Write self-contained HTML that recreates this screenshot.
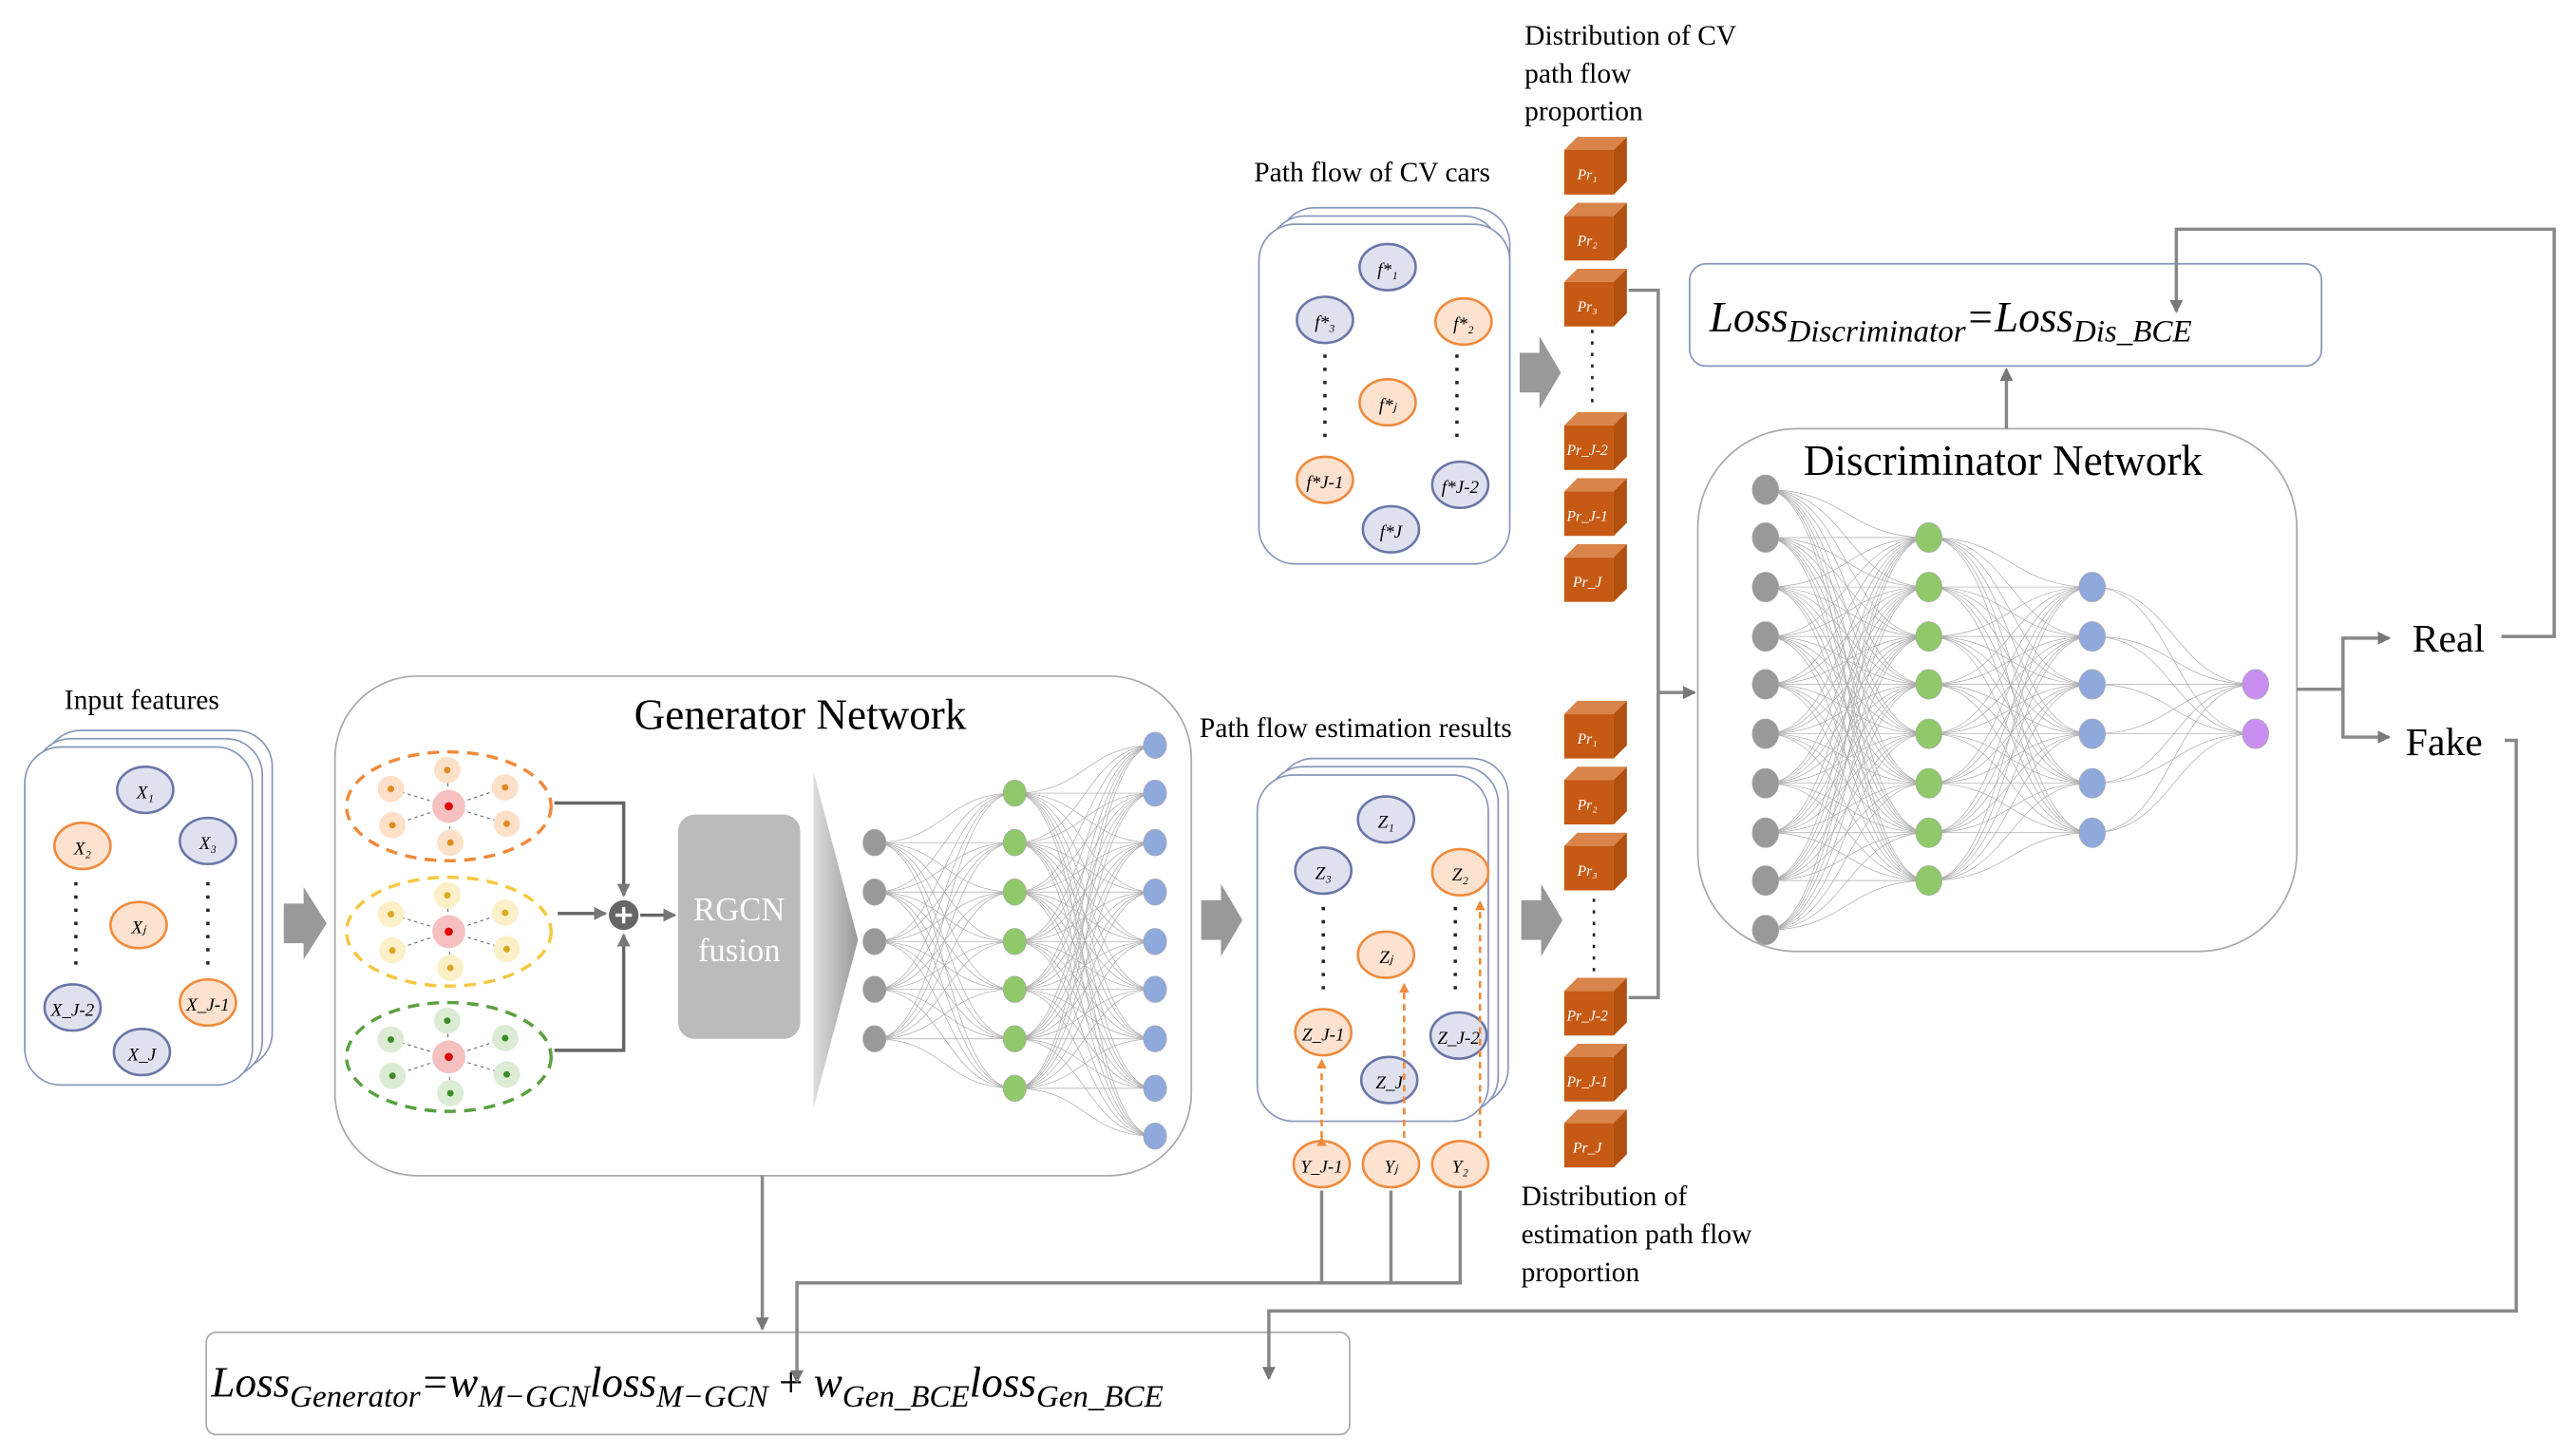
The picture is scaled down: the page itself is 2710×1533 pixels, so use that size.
<!DOCTYPE html>
<html><head><meta charset="utf-8">
<style>
html,body{margin:0;padding:0;background:#fff;}
svg{display:block;}
text{font-family:"Liberation Serif",serif;}
</style></head>
<body>
<svg id="s" width="2710" height="1533" viewBox="0 0 1560 883" preserveAspectRatio="none" xmlns="http://www.w3.org/2000/svg">
<defs>
<marker id="ah" markerWidth="8" markerHeight="8" refX="7" refY="4" orient="auto" markerUnits="userSpaceOnUse"><path d="M0,0 L8,4 L0,8 z" fill="#777"/></marker>
<marker id="ao" markerWidth="6" markerHeight="6" refX="5" refY="3" orient="auto" markerUnits="userSpaceOnUse"><path d="M0,0 L6,3 L0,6 z" fill="#f08a3c"/></marker>
<linearGradient id="tri" x1="0" x2="1"><stop offset="0" stop-color="#ddd"/><stop offset="1" stop-color="#999"/></linearGradient>
</defs>
<g id="nets" stroke="#aaa" stroke-width="0.4" fill="none"></g>

<!-- Input features -->
<text x="39" y="430" font-size="17">Input features</text>
<rect x="27" y="443" width="138" height="205" rx="22" fill="#fff" stroke="#8896b8" stroke-width="1"/>
<rect x="21" y="448" width="138" height="205" rx="22" fill="#fff" stroke="#8896b8" stroke-width="1"/>
<rect x="15" y="453" width="138" height="205" rx="22" fill="#fff" stroke="#8896b8" stroke-width="1"/>
<g id="inNodes"></g>
<line x1="46" y1="535" x2="46" y2="590" stroke="#222" stroke-width="2" stroke-dasharray="2,6"/>
<line x1="126" y1="535" x2="126" y2="590" stroke="#222" stroke-width="2" stroke-dasharray="2,6"/>

<!-- big arrows -->
<path d="M172,548 h12 v-10 l14,22 l-14,22 v-10 h-12 z" fill="#999"/>
<path d="M728,546 h12 v-10 l13,22 l-13,22 v-10 h-12 z" fill="#999"/>
<path d="M922,546 h12 v-10 l13,22 l-13,22 v-10 h-12 z" fill="#999"/>
<path d="M921,214 h12 v-10 l13,22 l-13,22 v-10 h-12 z" fill="#999"/>

<!-- Generator -->
<rect x="203" y="410" width="519" height="303" rx="50" fill="none" stroke="#aaa" stroke-width="1"/>
<text x="485" y="442" font-size="26" text-anchor="middle">Generator Network</text>
<g id="graphs"></g>
<path d="M336,487 H378 V543" stroke="#666" stroke-width="2" fill="none" marker-end="url(#ah)"/>
<path d="M336,637 H378 V567" stroke="#666" stroke-width="2" fill="none" marker-end="url(#ah)"/>
<path d="M338,554 H367" stroke="#666" stroke-width="2" fill="none" marker-end="url(#ah)"/>
<circle cx="378" cy="555" r="9" fill="#666"/>
<path d="M373,555 h10 M378,550 v10" stroke="#fff" stroke-width="2"/>
<path d="M388,555 H409" stroke="#666" stroke-width="2" fill="none" marker-end="url(#ah)"/>
<rect x="411" y="494" width="74" height="136" rx="10" fill="#bbb"/>
<text x="448" y="558" font-size="20" fill="#fff" text-anchor="middle">RGCN</text>
<text x="448" y="583" font-size="20" fill="#fff" text-anchor="middle">fusion</text>
<path d="M493,468 L520,570 L493,672 z" fill="url(#tri)"/>

<!-- Path flow estimation -->
<text x="727" y="447" font-size="17">Path flow estimation results</text>
<rect x="774" y="460" width="140" height="210" rx="22" fill="#fff" stroke="#8896b8"/>
<rect x="768" y="465" width="140" height="210" rx="22" fill="#fff" stroke="#8896b8"/>
<rect x="762" y="470" width="140" height="210" rx="22" fill="#fff" stroke="#8896b8"/>
<line x1="802" y1="550" x2="802" y2="605" stroke="#222" stroke-width="2" stroke-dasharray="2,6"/>
<line x1="882" y1="550" x2="882" y2="605" stroke="#222" stroke-width="2" stroke-dasharray="2,6"/>
<g id="zNodes"></g>
<g stroke="#f08a3c" stroke-width="1.5" stroke-dasharray="4,3" fill="none">
<path d="M801,690 V643" marker-end="url(#ao)" marker-start="url(#ao)"/>
<path d="M851,690 V597" marker-end="url(#ao)"/>
<path d="M897,690 V547" marker-end="url(#ao)"/>
</g>

<!-- Path flow of CV cars -->
<text x="760" y="110" font-size="17">Path flow of CV cars</text>
<rect x="775" y="126" width="140" height="205" rx="22" fill="#fff" stroke="#8896b8"/>
<rect x="769" y="131" width="140" height="205" rx="22" fill="#fff" stroke="#8896b8"/>
<rect x="763" y="136" width="152" height="206" rx="22" fill="#fff" stroke="#8896b8"/>
<line x1="803" y1="215" x2="803" y2="270" stroke="#222" stroke-width="2" stroke-dasharray="2,6"/>
<line x1="883" y1="215" x2="883" y2="270" stroke="#222" stroke-width="2" stroke-dasharray="2,6"/>
<g id="fNodes"></g>

<text x="924" y="27" font-size="17">Distribution of CV</text>
<text x="924" y="50" font-size="17">path flow</text>
<text x="924" y="73" font-size="17">proportion</text>
<text x="922" y="731" font-size="17">Distribution of</text>
<text x="922" y="754" font-size="17">estimation path flow</text>
<text x="922" y="777" font-size="17">proportion</text>
<g id="cubes"></g>
<line x1="965" y1="200" x2="965" y2="245" stroke="#222" stroke-width="1.5" stroke-dasharray="2,5"/>
<line x1="966" y1="545" x2="966" y2="590" stroke="#222" stroke-width="1.5" stroke-dasharray="2,5"/>

<!-- Discriminator -->
<rect x="1024" y="160" width="383" height="62" rx="10" fill="#fff" stroke="#8896b8"/>
<text x="1036" y="201" font-size="26" font-style="italic" font-family="Liberation Sans,sans-serif">Loss<tspan font-size="19" dy="6">Discriminator</tspan><tspan dy="-6">=Loss</tspan><tspan font-size="19" dy="6">Dis_BCE</tspan></text>
<rect x="1029" y="260" width="363" height="317" rx="60" fill="none" stroke="#aaa"/>
<text x="1214" y="288" font-size="26" text-anchor="middle">Discriminator Network</text>
<g id="dnodes"></g>
<text x="1462" y="395" font-size="24">Real</text>
<text x="1458" y="458" font-size="24">Fake</text>

<!-- Loss generator -->
<rect x="125" y="808" width="693" height="62" rx="6" fill="#fff" stroke="#aaa"/>
<text x="128" y="847" font-size="26" font-style="italic" font-family="Liberation Sans,sans-serif">Loss<tspan font-size="19" dy="6">Generator</tspan><tspan dy="-6">=w</tspan><tspan font-size="19" dy="6">M−GCN</tspan><tspan dy="-6">loss</tspan><tspan font-size="19" dy="6">M−GCN</tspan><tspan dy="-6" font-style="normal"> + </tspan><tspan>w</tspan><tspan font-size="19" dy="6">Gen_BCE</tspan><tspan dy="-6">loss</tspan><tspan font-size="19" dy="6">Gen_BCE</tspan></text>

<!-- connectors (drawn last) -->
<g stroke="#888" stroke-width="2" fill="none">
<path d="M987,176 H1005 V605 H987"/>
<path d="M1005,420 H1027" marker-end="url(#ah)"/>
<path d="M1216,260 V224" marker-end="url(#ah)"/>
<path d="M1392,418 H1420 V387 H1448" marker-end="url(#ah)"/>
<path d="M1420,418 V447 H1448" marker-end="url(#ah)"/>
<path d="M1516,386 H1548 V139 H1319 V189" marker-end="url(#ah)"/>
<path d="M1518,449 H1525 V795 H769 V836" marker-end="url(#ah)"/>
<path d="M462,713 V806" marker-end="url(#ah)"/>
<path d="M801,722 V778 M843,722 V778"/>
<path d="M885,722 V778 H483 V838" marker-end="url(#ah)"/>
</g>
</svg>
<script>
var NS="http://www.w3.org/2000/svg";
function el(p,t,a){var e=document.createElementNS(NS,t);for(var k in a)e.setAttribute(k,a[k]);p.appendChild(e);return e;}
var nets=document.getElementById('nets');
function layer(x1,ys1,x2,ys2){ys1.forEach(function(a){ys2.forEach(function(b){el(nets,'path',{d:'M'+x1+','+a+' C'+(x1+(x2-x1)/2)+','+a+' '+(x1+(x2-x1)/2)+','+b+' '+x2+','+b});});});}
function nodes(g,x,ys,c,rx,ry){ys.forEach(function(y){el(g,'ellipse',{cx:x,cy:y,rx:rx,ry:ry,fill:c});});}
var gy=[511,541,571,600,630],gr=[481,511,541,571,600,630,660],bl=[452,481,511,541,571,600,630,660,689];
layer(530,gy,615,gr);layer(615,gr,700,bl);
var G=document.getElementById('graphs');
nodes(nets,530,gy,'#999',7,8);nodes(nets,615,gr,'#8fc96a',7,8);nodes(nets,700,bl,'#8fa9dc',7,8);
var d1=[297,326,356,386,415,445,475,505,534,564],d2=[326,356,386,415,445,475,505,534],d3=[356,386,415,445,475,505],d4=[415,445];
layer(1070,d1,1169,d2);layer(1169,d2,1268,d3);layer(1268,d3,1367,d4);
nodes(nets,1070,d1,'#999',8,9);nodes(nets,1169,d2,'#8fc96a',8,9);nodes(nets,1268,d3,'#8fa9dc',8,9);nodes(nets,1367,d4,'#c88ff0',8,9);
function circ(gid,list){var g=document.getElementById(gid);list.forEach(function(n){var o=n[3];el(g,'ellipse',{cx:n[0],cy:n[1],rx:17,ry:14,fill:o?'#fde2cf':'#dfe2ee',stroke:o?'#f08a3c':'#6a76a8','stroke-width':1.5});var t=el(g,'text',{x:n[0],y:n[1]+5,'font-size':11,'font-style':'italic','text-anchor':'middle'});t.textContent=n[2];});}
circ('inNodes',[[88,479,'X₁',0],[50,513,'X₂',1],[126,510,'X₃',0],[84,561,'Xⱼ',1],[44,611,'X_J-2',0],[126,608,'X_J-1',1],[86,638,'X_J',0]]);
circ('zNodes',[[840,497,'Z₁',0],[802,528,'Z₃',0],[885,529,'Z₂',1],[840,579,'Zⱼ',1],[802,626,'Z_J-1',1],[884,628,'Z_J-2',0],[842,655,'Z_J',0],[801,706,'Y_J-1',1],[843,706,'Yⱼ',1],[885,706,'Y₂',1]]);
circ('fNodes',[[841,162,'f*₁',0],[803,194,'f*₃',0],[887,195,'f*₂',1],[841,244,'f*ⱼ',1],[803,291,'f*J-1',1],[885,294,'f*J-2',0],[843,321,'f*J',0]]);
var cols=[['#f08a3c','#fde0c8','#e08a20'],['#f5c842','#fdf0c8','#d9a820'],['#5aa040','#dcecd4','#3d8a2a']];
[489,565,641].forEach(function(cy,i){var c=cols[i];el(G,'ellipse',{cx:272,cy:cy,rx:62,ry:33,fill:'none',stroke:c[0],'stroke-width':2,'stroke-dasharray':'7,5'});
for(var k=0;k<6;k++){var a=k*Math.PI/3+0.5;var x=272+40*Math.cos(a),y=cy+22*Math.sin(a);el(G,'line',{x1:272,y1:cy,x2:x,y2:y,stroke:'#777','stroke-width':0.7,'stroke-dasharray':'2,2'});el(G,'circle',{cx:x,cy:y,r:8,fill:c[1]});el(G,'circle',{cx:x,cy:y,r:2,fill:c[2]});}
el(G,'circle',{cx:272,cy:cy,r:10,fill:'#f7c0c0'});el(G,'circle',{cx:272,cy:cy,r:2.5,fill:'#d00'});});
var C=document.getElementById('cubes');
var cl=[['Pr₁',83],['Pr₂',123],['Pr₃',163],['Pr_J-2',250],['Pr_J-1',290],['Pr_J',330],['Pr₁',425],['Pr₂',465],['Pr₃',505],['Pr_J-2',593],['Pr_J-1',633],['Pr_J',673]];
cl.forEach(function(c){var x=948,y=c[1];el(C,'path',{d:'M'+x+','+(y+8)+' l8,-8 h30 l-8,8 z',fill:'#d8844a'});el(C,'path',{d:'M'+(x+30)+','+(y+8)+' l8,-8 v27 l-8,8 z',fill:'#b2500f'});el(C,'rect',{x:x,y:y+8,width:30,height:27,fill:'#c65a14'});var t=el(C,'text',{x:x+14,y:y+26,'font-size':9,'font-style':'italic',fill:'#fff','text-anchor':'middle'});t.textContent=c[0];});
</script>
</body></html>
